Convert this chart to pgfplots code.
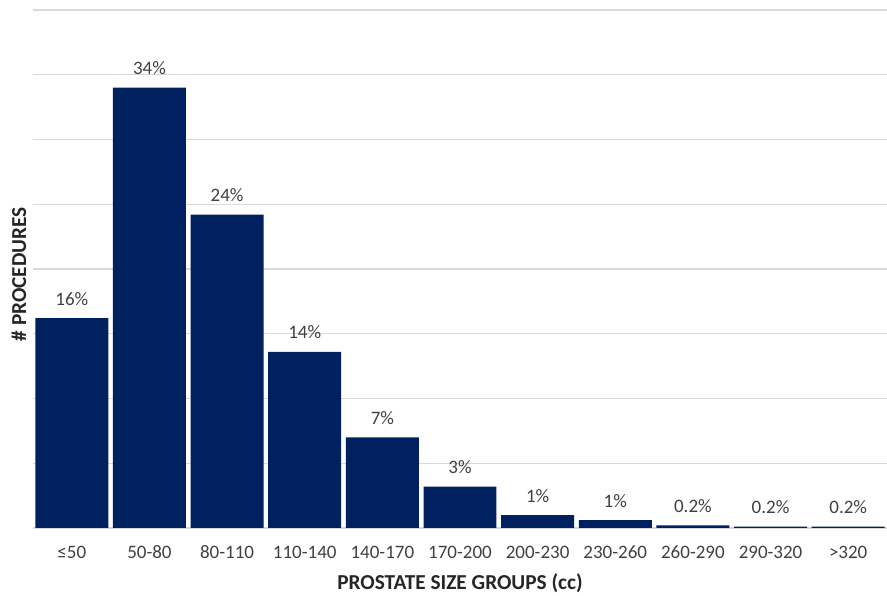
\documentclass[border=0pt]{standalone}
\usepackage{pgfplots}
\pgfplotsset{compat=1.18}
\usepackage{fontspec}
\setmainfont{Carlito}
\definecolor{barblue}{HTML}{002060}
\definecolor{gridgray}{HTML}{D9D9D9}
\definecolor{txt}{HTML}{404040}
\begin{document}
\begin{tikzpicture}[x=1pt,y=1pt]
\path[use as bounding box] (-33,-68) rectangle (854,528);
\begin{axis}[
  at={(0,0)}, anchor=south west,
  scale only axis, width=854pt, height=518pt,
  xmin=-0.5, xmax=10.5, ymin=0, ymax=200,
  ytick={0,25,...,200}, yticklabels={},
  ymajorgrids, grid style={gridgray, line width=1.3pt},
  axis x line*=bottom, axis y line*=left,
  x axis line style={gridgray, line width=1.6pt, -},
  y axis line style={draw=none},
  xtick={0,...,10},
  xticklabels={≤50,50-80,80-110,110-140,140-170,170-200,200-230,230-260,260-290,290-320,>320},
  major tick length=0pt,
  tick style={draw=none},
  xticklabel style={font=\fontsize{19}{23}\selectfont, text=txt, anchor=base, inner sep=0pt, yshift=-31pt},
  xlabel={\bfseries PROSTATE SIZE GROUPS (cc)},
  xlabel style={at={(axis description cs:0.5,0)}, anchor=base, yshift=-62pt, inner sep=0pt, font=\fontsize{21.3}{25}\selectfont, text=black!85},
  ylabel={\bfseries \# PROCEDURES},
  ylabel style={at={(axis description cs:-0.0082,0.49)}, anchor=base, inner sep=0pt, font=\fontsize{21.3}{25}\selectfont, text=black!85},
  ybar, bar width=0.94,
  nodes near coords, point meta=explicit symbolic,
  nodes near coords style={font=\fontsize{19}{23}\selectfont, text=txt, anchor=base, inner sep=0pt, yshift=13pt},
  clip=false,
]
\addplot[fill=barblue, draw=none] coordinates {
  (0,81) [16\%]
  (1,170) [34\%]
  (2,121) [24\%]
  (3,68) [14\%]
  (4,35) [7\%]
  (5,16) [3\%]
  (6,5) [1\%]
  (7,3) [1\%]
  (8,1) [0.2\%]
  (9,0.5) [0.2\%]
  (10,0.5) [0.2\%]
};
\end{axis}
\end{tikzpicture}
\end{document}
